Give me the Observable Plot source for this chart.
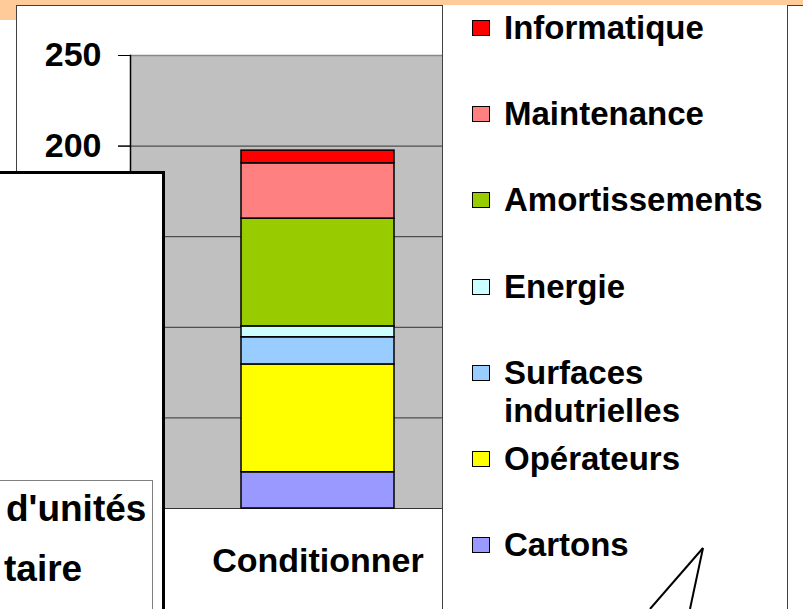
<!DOCTYPE html>
<html>
<head>
<meta charset="utf-8">
<script src="https://cdn.jsdelivr.net/npm/d3@7"></script>
<script src="https://cdn.jsdelivr.net/npm/@observablehq/plot@0.6"></script>
<style>
  html, body { margin: 0; padding: 0; background: #fff; }
  body { width: 803px; height: 609px; position: relative; overflow: hidden;
         font-family: "Liberation Sans", Arial, sans-serif; font-weight: bold; color: #000; }
  .abs { position: absolute; }
  #chart { position: absolute; left: 17px; top: 5px; }
  #legend { position: absolute; left: 442px; top: 5px; width: 344px; height: 620px;
            background: #fff; border-left: 1.5px solid #404040; border-right: 1.5px solid #404040; }
  .item { position: absolute; left: 29px; font-size: 33px; line-height: 38px; width: 290px; }
  .sw { position: absolute; left: 0; width: 16px; height: 14px; border: 1.5px solid #000; }
  .lab { position: absolute; left: 32px; width: 280px; }
</style>
</head>
<body>
<div class="abs" style="left:0;top:0;width:803px;height:5px;background:#ffcc99"></div>
<div class="abs" style="left:0;top:0;width:17px;height:20px;background:#ffcc99"></div>
<div class="abs" style="left:17px;top:5px;width:786px;height:0;border-top:1.5px solid #404040"></div>
<div class="abs" style="left:16px;top:5px;width:0;height:200px;border-left:1.5px solid #404040"></div>
<div id="chart"></div>
<div id="legend"></div>
<div class="abs" style="left:-5px;top:171px;width:164px;height:460px;background:#fff;border:3px solid #000"></div>
<div class="abs" style="left:-5px;top:480px;width:156px;height:140px;background:#fff;border:1px solid #808080">
  <div class="abs" style="left:10px;top:8px;font-size:37px;line-height:40px;white-space:nowrap">d'unités</div>
  <div class="abs" style="left:8px;top:68px;font-size:37px;line-height:40px;white-space:nowrap">taire</div>
</div>
<svg class="abs" style="left:0;top:0" width="803" height="609">
  <line x1="703" y1="548" x2="650" y2="609" stroke="#000" stroke-width="2"/>
  <line x1="703" y1="548" x2="690" y2="609" stroke="#000" stroke-width="2"/>
</svg>
<script>
const categories = ["Conditionner"];
const series = ["Cartons", "Opérateurs", "Surfaces indutrielles", "Energie", "Amortissements", "Maintenance", "Informatique"];
const values = [20, 59.5, 15, 6, 59.5, 30.5, 7];
const colors = ["#9999ff", "#ffff00", "#99ccff", "#ccffff", "#99cc00", "#ff8080", "#ff0000"];
const yTicks = [0, 50, 100, 150, 200, 250];
const yTickLabelsVisible = [200, 250];
const gridTicks = [0, 50, 100, 150, 200];

const data = series.map((s, i) => ({cat: categories[0], series: s, value: values[i]}));

const chart = Plot.plot({
  width: 487,
  height: 604,
  marginLeft: 113,
  marginTop: 50,
  marginRight: 0,
  marginBottom: 101,
  x: {domain: categories, padding: 0.42, label: null},
  y: {domain: [0, 250], label: null},
  color: {domain: series, range: colors},
  style: {background: "transparent", fontFamily: "'Liberation Sans', Arial, sans-serif", fontWeight: "bold", color: "#000", overflow: "visible"},
  marks: [
    Plot.frame({fill: "#c0c0c0", stroke: null}),
    Plot.ruleY(gridTicks, {stroke: "#333", strokeWidth: 1}),
    Plot.ruleY([250], {stroke: "#888", strokeWidth: 1.5}),
    Plot.barY(data, {x: "cat", y: "value", fill: "series", stroke: "#000", strokeWidth: 1.5}),
    Plot.axisY({ticks: yTicks, tickSize: 12, text: null, stroke: "#000", label: null}),
    Plot.axisY({ticks: yTickLabelsVisible, tickSize: 12, tickPadding: 17, fontSize: 34, fontWeight: "bold", fill: "#000", stroke: "#000", label: null}),
    Plot.frame({anchor: "left", stroke: "#000", strokeWidth: 1.5}),
    Plot.axisX({tickSize: 0, tickPadding: 39, fontSize: 34, fontWeight: "bold", fill: "#000", label: null})
  ]
});
document.getElementById("chart").appendChild(chart);

const legend = document.getElementById("legend");
const order = series.map((s, i) => i).reverse();
order.forEach((idx, k) => {
  const center = 23 + k * 86.2;
  const item = document.createElement("div");
  item.className = "item";
  item.style.top = (center - 19) + "px";
  const sw = document.createElement("div");
  sw.className = "sw";
  sw.style.background = colors[idx];
  sw.style.top = "11px";
  const lab = document.createElement("div");
  lab.className = "lab";
  lab.textContent = series[idx];
  item.appendChild(sw);
  item.appendChild(lab);
  legend.appendChild(item);
});
</script>
</body>
</html>
